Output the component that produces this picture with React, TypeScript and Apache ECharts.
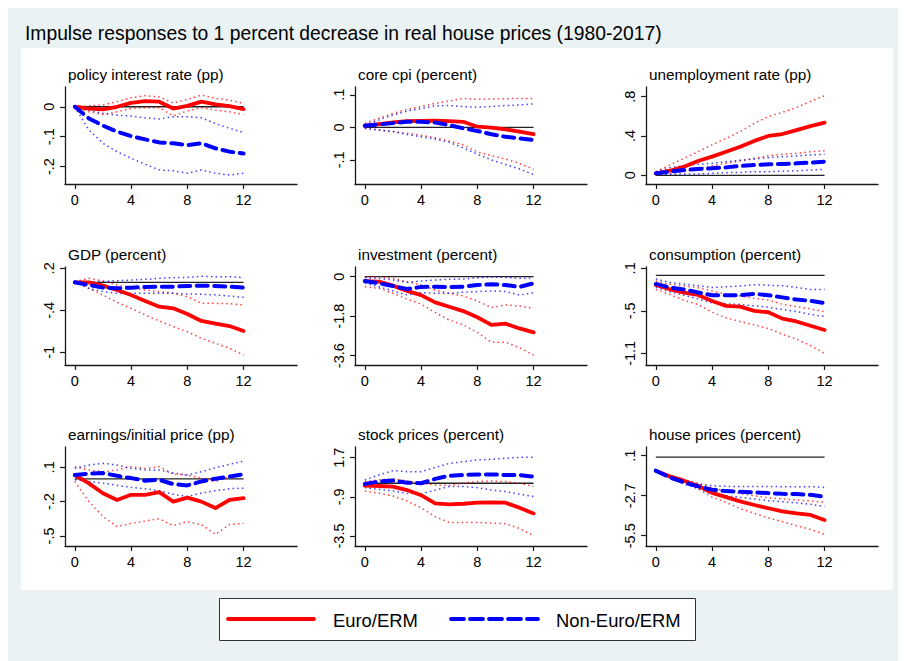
import React, { useEffect, useRef } from "react";
import * as echarts from "echarts";

// ---------------- data ----------------
const horizons = [0, 1, 2, 3, 4, 5, 6, 7, 8, 9, 10, 11, 12];
const xTickValues = [0, 4, 8, 12];

const mainTitle = "Impulse responses to 1 percent decrease in real house prices (1980-2017)";
const panelTitles = [
  "policy interest rate (pp)",
  "core cpi (percent)",
  "unemployment rate (pp)",
  "GDP (percent)",
  "investment (percent)",
  "consumption (percent)",
  "earnings/initial price (pp)",
  "stock prices (percent)",
  "house prices (percent)",
];
const legendNames = ["Euro/ERM", "Non-Euro/ERM"];

const yTicks = [
  [-0.2, -0.1, 0],
  [-0.1, 0, 0.1],
  [0, 0.4, 0.8],
  [-1, -0.4, 0.2],
  [-3.6, -1.8, 0],
  [-1.1, -0.5, 0.1],
  [-0.5, -0.2, 0.1],
  [-3.5, -0.9, 1.7],
  [-5.5, -2.7, 0.1],
];
const yRanges = [
  [-0.258, 0.066],
  [-0.174, 0.124],
  [-0.088, 0.898],
  [-1.181, 0.219],
  [-4.026, 0.44],
  [-1.265, 0.119],
  [-0.588, 0.278],
  [-4.165, 2.408],
  [-6.22, 0.707],
];

// policy interest rate
const policyEuro = [0, -0.006, -0.009, 0, 0.013, 0.019, 0.017, -0.006, 0.003, 0.017, 0.008, 0.002, -0.008];
const policyEuroHi = [0, 0.003, 0.006, 0.017, 0.03, 0.037, 0.033, 0.013, 0.024, 0.039, 0.028, 0.022, 0.011];
const policyEuroLo = [0, -0.017, -0.026, -0.017, -0.006, -0.003, -0.003, -0.03, -0.014, -0.003, -0.011, -0.017, -0.026];
const policyNon = [0, -0.039, -0.063, -0.083, -0.098, -0.109, -0.119, -0.122, -0.128, -0.122, -0.139, -0.15, -0.156];
const policyNonHi = [0, -0.011, -0.022, -0.028, -0.031, -0.037, -0.041, -0.033, -0.033, -0.037, -0.056, -0.072, -0.086];
const policyNonLo = [0, -0.078, -0.122, -0.15, -0.172, -0.192, -0.211, -0.214, -0.222, -0.211, -0.222, -0.228, -0.222];

// core cpi
const cpiEuro = [0.005, 0.01, 0.015, 0.019, 0.02, 0.021, 0.019, 0.017, 0.002, -0.001, -0.006, -0.013, -0.021];
const cpiEuroHi = [0.012, 0.028, 0.043, 0.055, 0.064, 0.074, 0.081, 0.089, 0.086, 0.087, 0.088, 0.089, 0.089];
const cpiEuroLo = [-0.003, -0.008, -0.013, -0.018, -0.024, -0.032, -0.042, -0.054, -0.075, -0.087, -0.097, -0.111, -0.129];
const cpiNon = [0.005, 0.009, 0.013, 0.017, 0.017, 0.015, 0.007, -0.003, -0.011, -0.021, -0.029, -0.034, -0.039];
const cpiNonHi = [0.007, 0.023, 0.038, 0.05, 0.058, 0.066, 0.067, 0.064, 0.062, 0.064, 0.067, 0.069, 0.072];
const cpiNonLo = [-0.003, -0.008, -0.013, -0.022, -0.029, -0.036, -0.046, -0.063, -0.082, -0.1, -0.114, -0.128, -0.145];

// unemployment rate
const unempEuro = [0.02, 0.047, 0.088, 0.146, 0.19, 0.24, 0.29, 0.35, 0.4, 0.42, 0.46, 0.5, 0.535];
const unempEuroHi = [0.037, 0.105, 0.173, 0.24, 0.31, 0.376, 0.444, 0.529, 0.597, 0.64, 0.69, 0.75, 0.81];
const unempEuroLo = [0.01, 0.02, 0.037, 0.071, 0.095, 0.122, 0.146, 0.173, 0.2, 0.214, 0.224, 0.24, 0.25];
const unempNon = [0.02, 0.037, 0.054, 0.064, 0.071, 0.081, 0.095, 0.105, 0.112, 0.115, 0.122, 0.129, 0.139];
const unempNonHi = [0.037, 0.078, 0.098, 0.112, 0.122, 0.139, 0.153, 0.166, 0.18, 0.19, 0.197, 0.207, 0.214];
const unempNonLo = [0.01, 0.01, 0.014, 0.014, 0.02, 0.027, 0.03, 0.037, 0.037, 0.044, 0.047, 0.054, 0.061];

// GDP
const gdpEuro = [0, 0, -0.048, -0.11, -0.18, -0.267, -0.348, -0.371, -0.452, -0.552, -0.59, -0.624, -0.695];
const gdpEuroHi = [0.01, 0.057, 0.019, -0.038, -0.076, -0.11, -0.133, -0.157, -0.205, -0.3, -0.3, -0.305, -0.324];
const gdpEuroLo = [0, -0.086, -0.18, -0.286, -0.371, -0.467, -0.552, -0.633, -0.705, -0.8, -0.871, -0.943, -1.038];
const gdpNon = [0, -0.038, -0.076, -0.086, -0.076, -0.067, -0.062, -0.062, -0.052, -0.048, -0.052, -0.062, -0.076];
const gdpNonHi = [0.01, 0, 0.01, 0.024, 0.033, 0.043, 0.057, 0.067, 0.071, 0.086, 0.081, 0.081, 0.067];
const gdpNonLo = [0, -0.086, -0.133, -0.157, -0.157, -0.157, -0.157, -0.157, -0.167, -0.171, -0.18, -0.195, -0.214];

// investment
const invEuro = [-0.2, -0.23, -0.41, -0.65, -0.84, -1.17, -1.37, -1.57, -1.85, -2.2, -2.14, -2.36, -2.54];
const invEuroHi = [0, 0, -0.08, -0.23, -0.38, -0.61, -0.76, -0.88, -1.11, -1.41, -1.29, -1.34, -1.44];
const invEuroLo = [-0.46, -0.53, -0.76, -1.02, -1.25, -1.63, -1.98, -2.2, -2.54, -2.99, -2.99, -3.24, -3.57];
const invNon = [-0.2, -0.3, -0.43, -0.56, -0.47, -0.46, -0.47, -0.46, -0.38, -0.35, -0.38, -0.47, -0.3];
const invNonHi = [-0.05, -0.08, -0.15, -0.26, -0.2, -0.15, -0.12, -0.11, -0.05, -0.02, -0.03, -0.08, -0.05];
const invNonLo = [-0.3, -0.46, -0.65, -0.84, -0.73, -0.76, -0.76, -0.71, -0.68, -0.65, -0.68, -0.84, -0.73];

// consumption
const consEuro = [-0.135, -0.196, -0.243, -0.275, -0.36, -0.43, -0.44, -0.5, -0.52, -0.61, -0.65, -0.71, -0.77];
const consEuroHi = [-0.079, -0.126, -0.149, -0.173, -0.22, -0.267, -0.29, -0.324, -0.347, -0.408, -0.441, -0.474, -0.512];
const consEuroLo = [-0.2, -0.27, -0.35, -0.41, -0.52, -0.6, -0.65, -0.7, -0.75, -0.83, -0.9, -0.99, -1.1];
const consNon = [-0.12, -0.17, -0.2, -0.24, -0.28, -0.28, -0.28, -0.26, -0.28, -0.31, -0.34, -0.36, -0.39];
const consNonHi = [-0.05, -0.1, -0.12, -0.145, -0.17, -0.16, -0.15, -0.13, -0.14, -0.145, -0.17, -0.2, -0.2];
const consNonLo = [-0.17, -0.23, -0.28, -0.33, -0.39, -0.4, -0.41, -0.43, -0.45, -0.48, -0.51, -0.55, -0.58];

// earnings / initial price
const earnEuro = [0.033, -0.04, -0.127, -0.185, -0.14, -0.14, -0.117, -0.2, -0.165, -0.2, -0.256, -0.185, -0.17];
const earnEuroHi = [0.106, 0.077, 0.062, 0.077, 0.106, 0.09, 0.106, 0.04, 0.033, 0.006, -0.025, 0.02, 0.026];
const earnEuroLo = [-0.023, -0.2, -0.33, -0.418, -0.39, -0.37, -0.35, -0.41, -0.375, -0.4, -0.486, -0.4, -0.39];
const earnNon = [0.033, 0.045, 0.05, 0.026, 0.006, -0.017, -0.009, -0.047, -0.058, -0.023, 0, 0.02, 0.04];
const earnNonHi = [0.091, 0.12, 0.135, 0.12, 0.091, 0.077, 0.077, 0.05, 0.033, 0.062, 0.097, 0.126, 0.155];
const earnNonLo = [-0.009, -0.023, -0.038, -0.058, -0.075, -0.087, -0.105, -0.136, -0.155, -0.125, -0.105, -0.087, -0.082];

// stock prices
const stockEuro = [-0.16, -0.18, -0.22, -0.45, -0.79, -1.33, -1.4, -1.36, -1.29, -1.27, -1.29, -1.63, -2.0];
const stockEuroHi = [0.11, 0.22, 0.29, 0.15, 0, -0.11, -0.15, 0, 0.11, 0.15, 0.11, 0, -0.22];
const stockEuroLo = [-0.51, -0.67, -0.85, -1.18, -1.63, -2.22, -2.6, -2.6, -2.6, -2.64, -2.68, -3.0, -3.48];
const stockNon = [-0.04, 0.11, 0.18, 0.04, 0, 0.29, 0.5, 0.55, 0.59, 0.59, 0.55, 0.55, 0.44];
const stockNonHi = [0.22, 0.55, 0.84, 0.77, 0.77, 1.04, 1.32, 1.43, 1.55, 1.59, 1.66, 1.72, 1.72];
const stockNonLo = [-0.29, -0.4, -0.51, -0.67, -0.71, -0.45, -0.22, -0.22, -0.29, -0.45, -0.55, -0.73, -0.88];

// house prices
const houseEuro = [-0.95, -1.35, -1.65, -2.0, -2.5, -2.8, -3.1, -3.35, -3.58, -3.8, -3.94, -4.05, -4.4];
const houseEuroHi = [-0.95, -1.3, -1.6, -1.84, -2.15, -2.38, -2.54, -2.7, -2.84, -2.93, -3.0, -3.07, -3.17];
const houseEuroLo = [-0.95, -1.42, -1.77, -2.23, -2.8, -3.17, -3.6, -3.94, -4.25, -4.52, -4.8, -5.06, -5.4];
const houseNon = [-0.95, -1.42, -1.77, -2.05, -2.28, -2.38, -2.43, -2.47, -2.52, -2.57, -2.59, -2.64, -2.77];
const houseNonHi = [-0.95, -1.42, -1.65, -1.88, -2.0, -2.05, -2.05, -2.05, -2.05, -2.07, -2.07, -2.07, -2.12];
const houseNonLo = [-0.95, -1.49, -1.88, -2.19, -2.59, -2.7, -2.82, -2.93, -3.05, -3.12, -3.2, -3.3, -3.46];

const panelData = [
  [policyEuro, policyEuroHi, policyEuroLo, policyNon, policyNonHi, policyNonLo],
  [cpiEuro, cpiEuroHi, cpiEuroLo, cpiNon, cpiNonHi, cpiNonLo],
  [unempEuro, unempEuroHi, unempEuroLo, unempNon, unempNonHi, unempNonLo],
  [gdpEuro, gdpEuroHi, gdpEuroLo, gdpNon, gdpNonHi, gdpNonLo],
  [invEuro, invEuroHi, invEuroLo, invNon, invNonHi, invNonLo],
  [consEuro, consEuroHi, consEuroLo, consNon, consNonHi, consNonLo],
  [earnEuro, earnEuroHi, earnEuroLo, earnNon, earnNonHi, earnNonLo],
  [stockEuro, stockEuroHi, stockEuroLo, stockNon, stockNonHi, stockNonLo],
  [houseEuro, houseEuroHi, houseEuroLo, houseNon, houseNonHi, houseNonLo],
];

// ---------------- layout / style ----------------
const FONT = "'Liberation Sans', Arial, Helvetica, sans-serif";
const RED = "#ff0000";
const BLUE = "#0000ff";
const AXIS = "#1a1a1a";
const colLeft = [57, 347, 638];
const rowTop = [79, 259, 439];
const rowHeight = [97, 98, 99];
const gridWidth = 232;
const titleY = [66, 246, 426];

const stataFmt = (v: number) => {
  const r = Math.round(v * 1000) / 1000;
  let s = String(r);
  s = s.replace(/^(-?)0\./, "$1.");
  return s;
};

function buildOption() {
  const grid: any[] = [];
  const xAxis: any[] = [];
  const yAxis: any[] = [];
  const series: any[] = [];
  const graphic: any[] = [];

  graphic.push({
    type: "rect",
    z: -10,
    silent: true,
    shape: { x: 13, y: 40, width: 872, height: 542 },
    style: { fill: "#ffffff" },
  });
  graphic.push({
    type: "text",
    x: 17,
    y: 25,
    style: { text: mainTitle, font: `19.3px ${FONT}`, fill: "#000", verticalAlign: "middle", align: "left" },
  });

  for (let p = 0; p < 9; p++) {
    const r = Math.floor(p / 3);
    const c = p % 3;
    grid.push({ left: colLeft[c], top: rowTop[r], width: gridWidth, height: rowHeight[r], containLabel: false });
    xAxis.push({
      type: "value",
      gridIndex: p,
      min: -0.7,
      max: 15.8,
      axisLine: { show: true, onZero: false, lineStyle: { color: AXIS, width: 1.3 } },
      axisTick: { show: true, length: 5, customValues: xTickValues, lineStyle: { color: AXIS, width: 1.2 } },
      axisLabel: {
        customValues: xTickValues,
        margin: 8,
        color: "#000",
        fontSize: 14.5,
        fontFamily: FONT,
        formatter: (v: number) => String(v),
      },
      splitLine: { show: false },
    });
    yAxis.push({
      type: "value",
      gridIndex: p,
      min: yRanges[p][0],
      max: yRanges[p][1],
      axisLine: { show: true, onZero: false, lineStyle: { color: AXIS, width: 1.3 } },
      axisTick: { show: true, length: 5, customValues: yTicks[p], lineStyle: { color: AXIS, width: 1.2 } },
      axisLabel: {
        customValues: yTicks[p],
        rotate: 90,
        margin: 9,
        color: "#000",
        fontSize: 14.5,
        fontFamily: FONT,
        formatter: (v: number) => stataFmt(v),
      },
      splitLine: { show: false },
    });

    const d = panelData[p];
    const pts = (arr: number[]) => horizons.map((h, i) => [h, arr[i]]);
    const base = { type: "line", xAxisIndex: p, yAxisIndex: p, symbol: "none", silent: true };
    // zero line
    series.push({
      ...base,
      z: 1,
      data: [[horizons[0], 0], [horizons[horizons.length - 1], 0]],
      lineStyle: { color: "#222", width: 1.3 },
    });
    // bands
    [1, 2].forEach((k) =>
      series.push({
        ...base,
        z: 2,
        data: pts(d[k]),
        lineStyle: { color: RED, width: 1.5, type: [1.5, 3.2], opacity: 0.75 },
      })
    );
    [4, 5].forEach((k) =>
      series.push({
        ...base,
        z: 2,
        data: pts(d[k]),
        lineStyle: { color: BLUE, width: 1.5, type: [1.5, 3.2], opacity: 0.75 },
      })
    );
    series.push({
      ...base,
      z: 3,
      name: legendNames[0],
      data: pts(d[0]),
      lineStyle: { color: RED, width: 3.8, cap: "round", join: "round" },
    });
    series.push({
      ...base,
      z: 4,
      name: legendNames[1],
      data: pts(d[3]),
      lineStyle: { color: BLUE, width: 4, type: [11, 6.5], cap: "round", join: "round" },
    });

    graphic.push({
      type: "text",
      x: colLeft[c] + 3,
      y: titleY[r],
      style: { text: panelTitles[p], font: `15.3px ${FONT}`, fill: "#000", verticalAlign: "middle", align: "left" },
    });
  }

  // legend
  graphic.push({
    type: "rect",
    z: 50,
    shape: { x: 211.5, y: 590.5, width: 476, height: 42 },
    style: { fill: "#ffffff", stroke: "#333", lineWidth: 1 },
  });
  graphic.push({
    type: "line",
    z: 51,
    shape: { x1: 220, y1: 611, x2: 306, y2: 611 },
    style: { stroke: RED, lineWidth: 3.8, lineCap: "round" },
  });
  graphic.push({
    type: "line",
    z: 51,
    shape: { x1: 443, y1: 611, x2: 530, y2: 611 },
    style: { stroke: BLUE, lineWidth: 3.8, lineCap: "round", lineDash: [13, 6] },
  });
  graphic.push({
    type: "text",
    z: 51,
    x: 325,
    y: 612,
    style: { text: legendNames[0], font: `18.4px ${FONT}`, fill: "#000", verticalAlign: "middle", align: "left" },
  });
  graphic.push({
    type: "text",
    z: 51,
    x: 548,
    y: 612,
    style: { text: legendNames[1], font: `18.4px ${FONT}`, fill: "#000", verticalAlign: "middle", align: "left" },
  });

  return {
    animation: false,
    backgroundColor: "#eaf2f3",
    textStyle: { fontFamily: FONT },
    grid,
    xAxis,
    yAxis,
    series,
    graphic,
  };
}

export default function App() {
  const ref = useRef<HTMLDivElement>(null);
  useEffect(() => {
    if (!ref.current) return;
    const chart = echarts.init(ref.current, null, { renderer: "svg" });
    chart.setOption(buildOption() as any);
    return () => chart.dispose();
  }, []);
  return <div ref={ref} style={{ width: 898, height: 653 }} />;
}
